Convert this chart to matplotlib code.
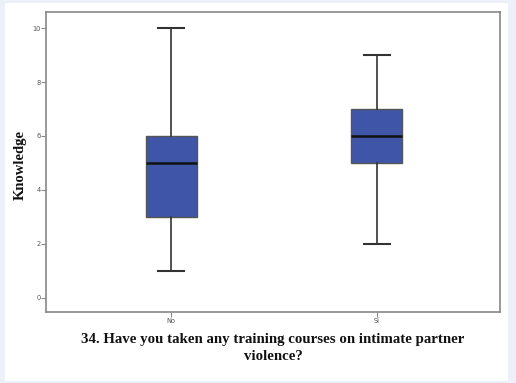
import matplotlib
matplotlib.use("Agg")
import matplotlib.pyplot as plt
from matplotlib.patches import Rectangle

categories = ["No", "Sí"]
whislo = [1, 2]
q1 = [3, 5]
med = [5, 6]
q3 = [6, 7]
whishi = [10, 9]
yticks = [0, 2, 4, 6, 8, 10]

W, H = 516, 383
fig = plt.figure(figsize=(W / 100, H / 100), dpi=100)
fig.patch.set_facecolor("#edf0f8")
fig.patches.append(Rectangle((5 / W, 1 - 381 / H), 503 / W, 378 / H,
                             transform=fig.transFigure, facecolor="white",
                             edgecolor="none", zorder=-5))

ax = fig.add_axes([46 / W, 1 - 312 / H, 454 / W, 300 / H])
ax.set_zorder(2)
stats = [dict(label=c, whislo=a, q1=b, med=m, q3=d, whishi=e, fliers=[])
         for c, a, b, m, d, e in zip(categories, whislo, q1, med, q3, whishi)]
ax.bxp(stats, positions=[1, 2], widths=0.25, patch_artist=True,
       showfliers=False,
       boxprops=dict(facecolor="#3f56a8", edgecolor="#555555", linewidth=1),
       medianprops=dict(color="#111111", linewidth=1.8),
       whiskerprops=dict(color="#333333", linewidth=1.2),
       capprops=dict(color="#333333", linewidth=1.5),
       capwidths=0.125)

ax.set_xlim(0.39, 2.6)
ax.set_ylim(-0.53, 10.6)
ax.set_yticks(yticks)
ax.set_yticklabels([str(t) for t in yticks])
for s in ax.spines.values():
    s.set_color("#888888")
    s.set_linewidth(1.2)
ax.tick_params(axis="both", colors="#888888", length=3.5, width=0.8,
               labelsize=4.8, labelcolor="#555555", pad=0.5)

ax.set_ylabel("Knowledge", family="Liberation Serif", fontweight="bold",
              fontsize=10.5, color="#111111")
ax.yaxis.set_label_coords(-0.042, 0.49)
ax.set_xlabel("34. Have you taken any training courses on intimate partner\nviolence?",
              family="Liberation Serif", fontweight="bold", fontsize=10.7,
              color="#111111", labelpad=7, linespacing=1.35)

fig.savefig("out.png", dpi=100, facecolor=fig.get_facecolor())
